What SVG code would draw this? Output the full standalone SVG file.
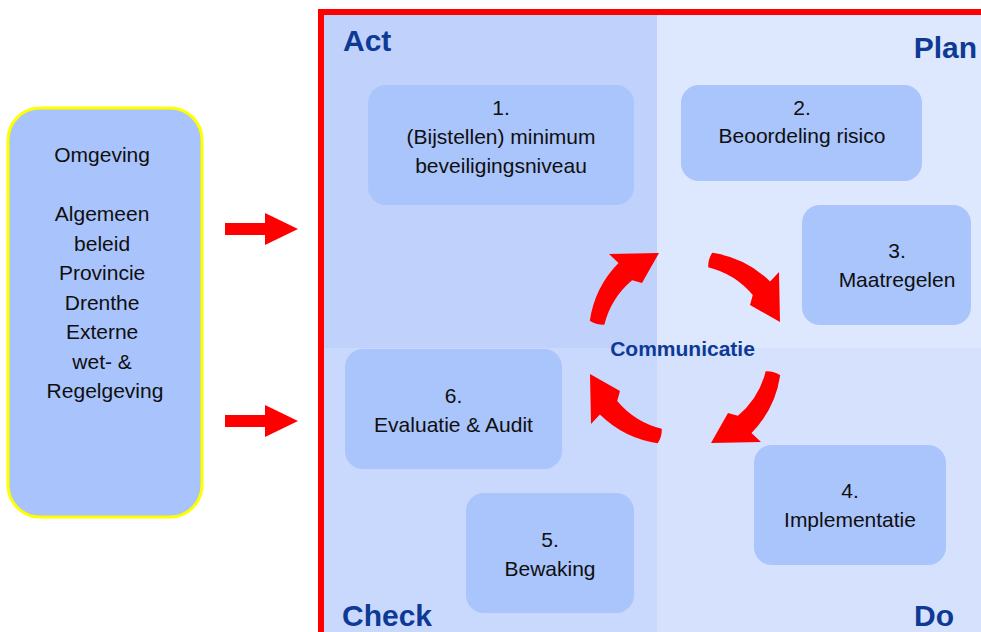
<svg xmlns="http://www.w3.org/2000/svg" xmlns:xlink="http://www.w3.org/1999/xlink" width="981" height="632" viewBox="0 0 981 632">
  <style>
    .box { fill: #aac4fc; }
    .env { fill: #a9c4fc; stroke: #ffff00; stroke-width: 3; }
    .txt { font-family: "Liberation Sans", Arial, sans-serif; font-size: 21px; fill: #0f0f0f; text-anchor: middle; }
    .phase { font-family: "Liberation Sans", Arial, sans-serif; font-size: 30px; font-weight: bold; fill: #0d3a94; }
    .comm { font-family: "Liberation Sans", Arial, sans-serif; font-size: 21px; font-weight: bold; fill: #0d3a94; text-anchor: middle; }
    .red { fill: #ff0000; }
  </style>
  <defs>
    <!-- straight input arrow -->
    <path id="inArrow" d="M225,223 H265 V213 L298,229 L265,245 V235 H225 Z"/>
    <!-- one quarter of the cycle: curved brush arrow around (685,348) -->
    <path id="cycleArrow" d="M589.8,320.7 A104,104 0 0 1 618.5,262.9 L609,254 L659,253 L642,283 L632.1,280.2 A85,85 0 0 0 604.3,324.8 Q596,325 589.8,320.7 Z"/>
  </defs>

  <rect width="981" height="632" fill="#ffffff"/>

  <!-- PDCA quadrants -->
  <g id="quadrants">
    <rect x="324" y="15" width="333" height="333" fill="#c0d1fc"/>
    <rect x="657" y="15" width="330" height="333" fill="#dde7fd"/>
    <rect x="324" y="348" width="333" height="290" fill="#c9d9fd"/>
    <rect x="657" y="348" width="330" height="290" fill="#d6e1fd"/>
    <rect x="321" y="12" width="700" height="660" fill="none" stroke="#ff0000" stroke-width="6"/>
    <text class="phase" x="343" y="51">Act</text>
    <text class="phase" x="977" y="58" text-anchor="end">Plan</text>
    <text class="phase" x="342" y="626">Check</text>
    <text class="phase" x="954" y="626" text-anchor="end">Do</text>
  </g>

  <g id="omgeving">
    <rect class="env" x="8" y="108" width="194" height="409" rx="32"/>
    <text class="txt" x="105">
      <tspan x="105" y="162">Omgeving</tspan>
      <tspan x="105" y="221">Algemeen</tspan>
      <tspan x="105" y="250.5">beleid</tspan>
      <tspan x="105" y="280">Provincie</tspan>
      <tspan x="105" y="309.5">Drenthe</tspan>
      <tspan x="105" y="339">Externe</tspan>
      <tspan x="105" y="368.5">wet- &amp;</tspan>
      <tspan x="105" y="398">Regelgeving</tspan>
    </text>
  </g>

  <g id="step1">
    <rect class="box" x="368" y="85" width="266" height="120" rx="18"/>
    <text class="txt"><tspan x="501" y="115">1.</tspan><tspan x="501" y="144">(Bijstellen) minimum</tspan><tspan x="501" y="173">beveiligingsniveau</tspan></text>
  </g>
  <g id="step2">
    <rect class="box" x="681" y="85" width="241" height="96" rx="18"/>
    <text class="txt"><tspan x="802" y="115">2.</tspan><tspan x="802" y="143">Beoordeling risico</tspan></text>
  </g>
  <g id="step3">
    <rect class="box" x="802" y="205" width="169" height="120" rx="18"/>
    <text class="txt"><tspan x="897" y="258">3.</tspan><tspan x="897" y="287">Maatregelen</tspan></text>
  </g>
  <g id="step4">
    <rect class="box" x="754" y="445" width="192" height="120" rx="18"/>
    <text class="txt"><tspan x="850" y="498">4.</tspan><tspan x="850" y="527">Implementatie</tspan></text>
  </g>
  <g id="step5">
    <rect class="box" x="466" y="493" width="168" height="120" rx="18"/>
    <text class="txt"><tspan x="550" y="547">5.</tspan><tspan x="550" y="576">Bewaking</tspan></text>
  </g>
  <g id="step6">
    <rect class="box" x="345" y="349" width="217" height="120" rx="18"/>
    <text class="txt"><tspan x="453.5" y="403">6.</tspan><tspan x="453.5" y="432">Evaluatie &amp; Audit</tspan></text>
  </g>

  <g id="communicatie">
    <text class="comm" x="682.5" y="356">Communicatie</text>
  </g>

  <g id="connectors">
    <use xlink:href="#inArrow" href="#inArrow" class="red"/>
    <use xlink:href="#inArrow" href="#inArrow" class="red" transform="translate(0,192)"/>
    <use xlink:href="#cycleArrow" href="#cycleArrow" class="red"/>
    <use xlink:href="#cycleArrow" href="#cycleArrow" class="red" transform="rotate(90 685 348)"/>
    <use xlink:href="#cycleArrow" href="#cycleArrow" class="red" transform="rotate(180 685 348)"/>
    <use xlink:href="#cycleArrow" href="#cycleArrow" class="red" transform="rotate(270 685 348)"/>
  </g>
</svg>
